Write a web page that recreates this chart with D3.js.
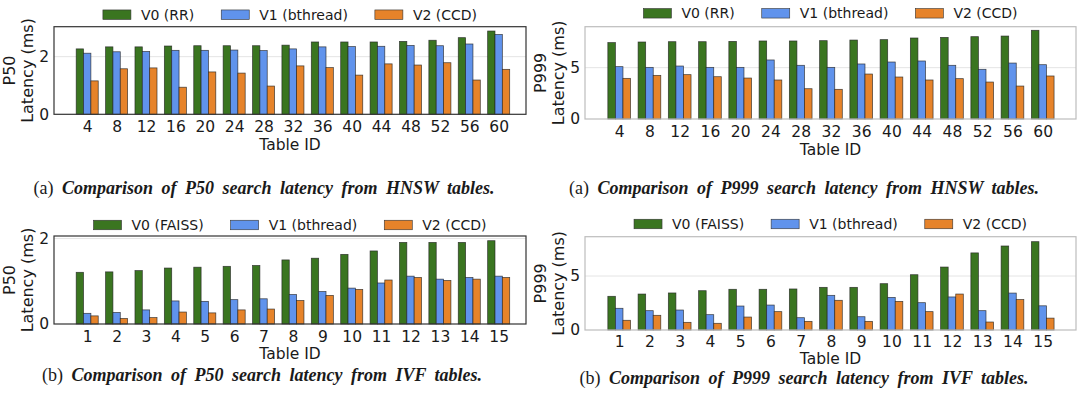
<!DOCTYPE html>
<html>
<head>
<meta charset="utf-8">
<script src="https://cdn.jsdelivr.net/npm/d3@7"></script>
<style>
  body { margin: 0; background: #fff; }
  text { font-family: "DejaVu Sans", sans-serif; fill: #1a1a1a; }
  .cap { font-family: "Liberation Serif", "Times New Roman", serif; }
</style>
</head>
<body>
<svg id="chart" width="1080" height="413"></svg>
<script>
// ---- data ----
var hnswIds = ["4","8","12","16","20","24","28","32","36","40","44","48","52","56","60"];
var ivfIds  = ["1","2","3","4","5","6","7","8","9","10","11","12","13","14","15"];

var hnswP50_v0 = [2.27,2.34,2.34,2.37,2.38,2.38,2.38,2.40,2.51,2.51,2.51,2.53,2.57,2.66,2.89];
var hnswP50_v1 = [2.12,2.17,2.18,2.22,2.22,2.23,2.21,2.27,2.34,2.35,2.36,2.39,2.38,2.44,2.77];
var hnswP50_v2 = [1.16,1.58,1.61,0.94,1.47,1.43,0.98,1.68,1.62,1.36,1.75,1.71,1.79,1.19,1.56];

var hnswP999_v0 = [7.44,7.50,7.53,7.53,7.56,7.60,7.60,7.63,7.69,7.73,7.89,7.95,8.02,8.08,8.64];
var hnswP999_v1 = [5.10,5.03,5.16,5.03,5.03,5.75,5.23,5.03,5.36,5.55,5.65,5.23,4.84,5.45,5.29];
var hnswP999_v2 = [3.96,4.25,4.32,4.12,3.99,3.80,2.95,2.89,4.38,4.09,3.80,3.93,3.60,3.21,4.19];

var ivfP50_v0 = [1.21,1.22,1.25,1.31,1.33,1.35,1.37,1.50,1.54,1.63,1.71,1.91,1.91,1.91,1.95];
var ivfP50_v1 = [0.25,0.27,0.33,0.54,0.53,0.57,0.59,0.69,0.76,0.84,0.96,1.12,1.05,1.09,1.12];
var ivfP50_v2 = [0.19,0.13,0.15,0.28,0.26,0.33,0.35,0.55,0.67,0.81,1.03,1.09,1.02,1.05,1.09];

var ivfP999_v0 = [3.12,3.33,3.43,3.64,3.77,3.77,3.80,3.95,3.95,4.29,5.12,5.83,7.14,7.78,8.18];
var ivfP999_v1 = [2.01,1.79,1.85,1.42,2.22,2.31,1.14,3.21,1.23,3.02,2.53,3.06,1.79,3.42,2.24];
var ivfP999_v2 = [0.90,1.36,0.71,0.62,1.20,1.70,0.80,2.75,0.80,2.65,1.70,3.33,0.74,2.82,1.10];

var hnswLegend = ["V0 (RR)", "V1 (bthread)", "V2 (CCD)"];
var ivfLegend  = ["V0 (FAISS)", "V1 (bthread)", "V2 (CCD)"];

var colors = ["#3a7520", "#6093ec", "#e6832a"];

var svg = d3.select("#chart");

function drawPanel(p) {
  var x = d3.scaleLinear().domain(p.xdom).range([p.left, p.right]);
  var y = d3.scaleLinear().domain([0, p.ymax]).range([p.bottom, p.top]);
  var bw = x(0.25) - x(0);
  var g = svg.append("g");

  // grid
  g.selectAll("line.grid")
    .data(p.yticks.filter(function(d) { return d > 0; }))
    .enter().append("line")
      .attr("x1", p.left).attr("x2", p.right)
      .attr("y1", function(d) { return y(d); })
      .attr("y2", function(d) { return y(d); })
      .attr("stroke", "#e4e4e4").attr("stroke-width", 1);

  // bars
  var series = [p.v0, p.v1, p.v2];
  series.forEach(function(vals, k) {
    g.selectAll("rect.s" + k)
      .data(vals)
      .enter().append("rect")
        .attr("x", function(d, i) { return x(i + (k - 1) * 0.25) - bw / 2; })
        .attr("width", bw)
        .attr("y", function(d) { return y(d); })
        .attr("height", function(d) { return y(0) - y(d); })
        .attr("fill", colors[k])
        .attr("stroke", "#222")
        .attr("stroke-opacity", 0.8)
        .attr("stroke-width", 0.75);
  });

  // frame
  g.append("rect")
    .attr("x", p.left).attr("y", p.top)
    .attr("width", p.right - p.left).attr("height", p.bottom - p.top)
    .attr("fill", "none").attr("stroke", p.frame).attr("stroke-width", 1.2);

  // axes
  var ya = g.append("g")
    .attr("transform", "translate(" + p.left + ",0)")
    .call(d3.axisLeft(y).tickValues(p.yticks).tickFormat(d3.format("d")).tickSize(0).tickPadding(5));
  ya.select(".domain").remove();
  ya.selectAll("text").style("font-size", "15.5px").style("font-family", "DejaVu Sans");

  var xa = g.append("g")
    .attr("transform", "translate(0," + p.bottom + ")")
    .call(d3.axisBottom(x).tickValues(d3.range(p.ids.length))
      .tickFormat(function(i) { return p.ids[i]; }).tickSize(0).tickPadding(p.tickPad));
  xa.select(".domain").remove();
  xa.selectAll("text").style("font-size", "15.5px").style("font-family", "DejaVu Sans");

  // axis labels
  g.append("text")
    .attr("x", (p.left + p.right) / 2)
    .attr("y", p.bottom + p.xlabOff)
    .attr("text-anchor", "middle")
    .style("font-size", "15.5px")
    .text("Table ID");

  var cy = (p.top + p.bottom) / 2;
  g.append("text")
    .attr("transform", "translate(" + (p.left - 39.5) + "," + cy + ")rotate(-90)")
    .attr("text-anchor", "middle")
    .style("font-size", "16px")
    .text(p.ylabel);
  g.append("text")
    .attr("transform", "translate(" + (p.left - 21) + "," + cy + ")rotate(-90)")
    .attr("text-anchor", "middle")
    .style("font-size", "16px")
    .text("Latency (ms)");

  // legend, centred over the plot
  var lg = g.append("g");
  var items = p.legend.map(function(name, k) {
    var it = lg.append("g");
    it.append("rect")
      .attr("width", 28).attr("height", 9.5)
      .attr("y", -4.75)
      .attr("fill", colors[k]).attr("stroke", "#333").attr("stroke-width", 0.6);
    var t = it.append("text")
      .attr("x", 38).attr("dy", "0.36em")
      .style("font-size", "14px")
      .text(name);
    return { g: it, w: 38 + t.node().getComputedTextLength() };
  });
  var gap = 27;
  var total = d3.sum(items, function(d) { return d.w; }) + gap * (items.length - 1);
  var cx = (p.left + p.right) / 2 - total / 2;
  items.forEach(function(d) {
    d.g.attr("transform", "translate(" + cx + "," + p.legendY + ")");
    cx += d.w + gap;
  });
}

drawPanel({ left: 54, right: 526, top: 26.7, bottom: 114.3, xdom: [-1.13, 14.93], ymax: 3.04,
  yticks: [0, 2], ids: hnswIds, v0: hnswP50_v0, v1: hnswP50_v1, v2: hnswP50_v2,
  legend: hnswLegend, legendY: 14.7, ylabel: "P50", frame: "#333", xlabOff: 36, tickPad: 6.5 });
drawPanel({ left: 585, right: 1076, top: 26.7, bottom: 119, xdom: [-1.13, 15.1], ymax: 8.99,
  yticks: [0, 5], ids: hnswIds, v0: hnswP999_v0, v1: hnswP999_v1, v2: hnswP999_v2,
  legend: hnswLegend, legendY: 13.3, ylabel: "P999", frame: "#bdbdbd", xlabOff: 35.5, tickPad: 6.5 });
drawPanel({ left: 54, right: 526, top: 236, bottom: 324, xdom: [-1.13, 14.93], ymax: 2.06,
  yticks: [0, 2], ids: ivfIds, v0: ivfP50_v0, v1: ivfP50_v1, v2: ivfP50_v2,
  legend: ivfLegend, legendY: 225, ylabel: "P50", frame: "#333", xlabOff: 35, tickPad: 6.5 });
drawPanel({ left: 585, right: 1076, top: 236.7, bottom: 330, xdom: [-1.13, 15.1], ymax: 8.64,
  yticks: [0, 5], ids: ivfIds, v0: ivfP999_v0, v1: ivfP999_v1, v2: ivfP999_v2,
  legend: ivfLegend, legendY: 224, ylabel: "P999", frame: "#bdbdbd", xlabOff: 34, tickPad: 5.5 });

// captions
var captions = [
  { tag: "(a) ", body: "Comparison of P50 search latency from HNSW tables.", cx: 264, y: 194.3, w: 462 },
  { tag: "(a) ", body: "Comparison of P999 search latency from HNSW tables.", cx: 804, y: 194.3, w: 480 },
  { tag: "(b) ", body: "Comparison of P50 search latency from IVF tables.", cx: 262, y: 381, w: 456 },
  { tag: "(b) ", body: "Comparison of P999 search latency from IVF tables.", cx: 804, y: 384, w: 474 }
];
captions.forEach(function(c) {
  var t = svg.append("text").attr("class", "cap")
    .attr("y", c.y)
    .style("font-size", "18px");
  t.append("tspan").text(c.tag);
  t.append("tspan").style("font-weight", "bold").style("font-style", "italic").text(c.body);
  var w = t.node().getComputedTextLength();
  var spaces = (c.tag + c.body).split(" ").length - 1;
  var ws = Math.max(0, Math.min(4, (c.w - w) / spaces));
  t.style("word-spacing", ws + "px");
  var w2 = t.node().getComputedTextLength();
  t.attr("x", c.cx - w2 / 2);
});
</script>
</body>
</html>
